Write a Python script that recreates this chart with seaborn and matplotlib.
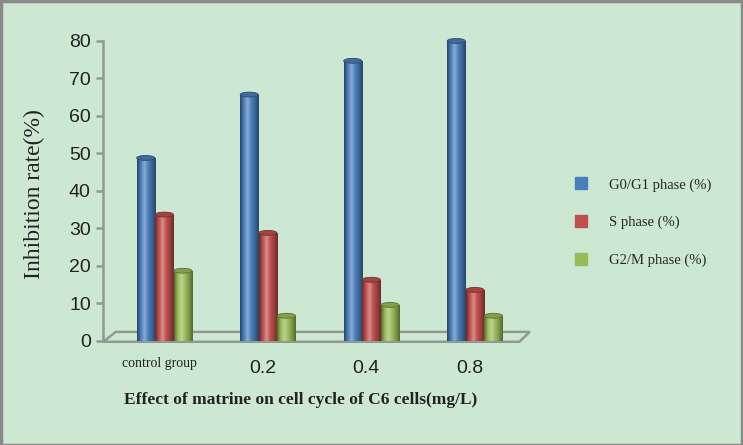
import numpy as np
import pandas as pd
import matplotlib
matplotlib.use("Agg")
import matplotlib.pyplot as plt
import seaborn as sns
from matplotlib.colors import LinearSegmentedColormap, to_rgb
from matplotlib.patches import Ellipse, Polygon
from matplotlib.lines import Line2D

# data
groups = ["control group", "0.2", "0.4", "0.8"]
phases = ["G0/G1 phase (%)", "S phase (%)", "G2/M phase (%)"]
g0g1 = [48.8, 65.7, 74.7, 80.0]
s_phase = [33.7, 28.8, 16.3, 13.6]
g2m = [18.7, 6.7, 9.6, 6.7]

colors = ["#4a7ebb", "#c0504d", "#9bbb59"]
BG = "#cde8d2"

df = pd.DataFrame({
    "group": groups * 3,
    "phase": np.repeat(phases, len(groups)),
    "value": g0g1 + s_phase + g2m,
})

sns.set_theme(style="white")
plt.rcParams["font.family"] = ["Liberation Sans", "DejaVu Sans"]

fig = plt.figure(figsize=(7.43, 4.45), dpi=100, facecolor=BG)
ax = fig.add_axes([0.139, 0.234, 0.56, 0.674])
ax.set_facecolor(BG)

sns.barplot(data=df, x="group", y="value", hue="phase", order=groups,
            hue_order=phases, palette=colors, width=0.54, gap=0.03,
            legend=False, ax=ax, saturation=1)


def shade(c):
    r = np.array(to_rgb(c))
    dark = r * 0.55
    light = np.clip(r + (1 - r) * 0.35, 0, 1)
    return LinearSegmentedColormap.from_list(
        "cyl", [dark, r, light, r, r * 0.8, dark])


# cylinder look: gradient clipped to each bar plus an elliptic top cap
grad = np.linspace(0, 1, 64).reshape(1, -1)
for i, patch in enumerate(ax.patches[:]):
    c = colors[i // len(groups)]
    x0, y0 = patch.get_x(), patch.get_y()
    w, h = patch.get_width(), patch.get_height()
    im = ax.imshow(grad, cmap=shade(c), aspect="auto",
                   extent=(x0, x0 + w, y0, y0 + h), zorder=3)
    im.set_clip_path(patch)
    patch.set_facecolor("none")
    patch.set_edgecolor("none")
    cap = Ellipse((x0 + w / 2, y0 + h), w, 1.3,
                  facecolor=np.array(to_rgb(c)) * 0.85,
                  edgecolor=np.array(to_rgb(c)) * 0.6, lw=0.6, zorder=4,
                  clip_on=False)
    ax.add_patch(cap)
    base = Ellipse((x0 + w / 2, y0), w, 1.3, facecolor=np.array(to_rgb(c)) * 0.7,
                   edgecolor="none", zorder=2.9)
    ax.add_patch(base)
ax.set_xlim(-0.59, 3.43)
ax.set_ylim(0, 80)

# floor of the 3D box
floor = Polygon([(0.0, -0.003), (0.03, 0.03), (1.025, 0.03), (1.0, -0.003)],
                closed=True, transform=ax.transAxes, facecolor="none",
                edgecolor="#8f9a93", lw=1.8, clip_on=False, zorder=1)
ax.add_patch(floor)

for side in ["top", "right", "bottom"]:
    ax.spines[side].set_visible(False)
ax.spines["left"].set_color("#8f9a93")
ax.spines["left"].set_linewidth(1.8)
ax.set_yticks(range(0, 81, 10))
ax.tick_params(axis="y", length=5, width=1.8, color="#8f9a93", direction="out",
               labelsize=14, labelcolor="#222222", left=True, pad=4)
ax.tick_params(axis="x", length=0, pad=14)
ax.set_xticks([t - 0.05 for t in range(len(groups))])
ax.set_xticklabels(groups)
for lbl in ax.get_xticklabels():
    if lbl.get_text() == "control group":
        lbl.set_fontfamily("Liberation Serif")
        lbl.set_fontsize(10)
        lbl.set_y(0.01)
    else:
        lbl.set_fontsize(14)
    lbl.set_color("#222222")

ax.set_xlabel("")
ax.set_ylabel("")
fig.text(0.047, 0.564, "Inhibition rate(%)", rotation=90, ha="center",
         va="center", fontsize=17, family="Liberation Serif", color="#222222")
fig.text(0.405, 0.10, "Effect of matrine on cell cycle of C6 cells(mg/L)",
         ha="center", va="center", fontsize=12.5, family="Liberation Serif",
         fontweight="bold", color="#222222")

handles = [Line2D([], [], marker="s", ls="none", markersize=9,
                  markerfacecolor=c, markeredgecolor=c) for c in colors]
leg = fig.legend(handles, phases, loc="center left", bbox_to_anchor=(0.745, 0.5),
                 frameon=False, labelspacing=1.65, handletextpad=0.9,
                 prop={"family": "Liberation Serif", "size": 10.5})

# outer border
border = plt.Rectangle((0.001, 0.001), 0.997, 0.997, transform=fig.transFigure,
                       facecolor="none", edgecolor="#8a8a8a", lw=2.5)
fig.patches.append(border)

fig.savefig("out.png", dpi=100, facecolor=BG)
